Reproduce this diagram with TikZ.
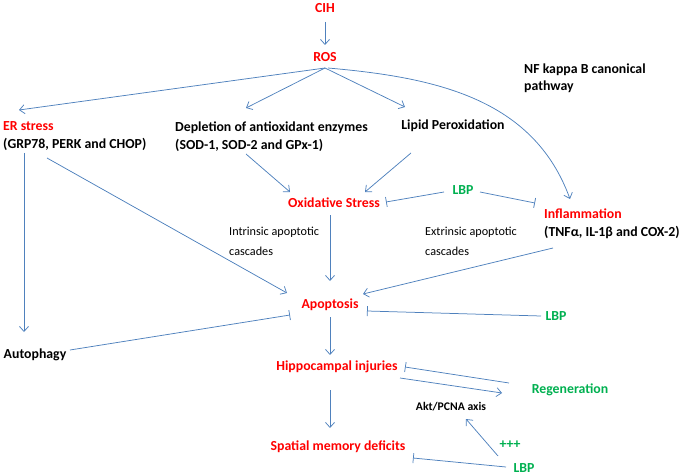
\documentclass[tikz,border=0pt]{standalone}
\usepackage{fontspec}
\setmainfont{Carlito}
\usetikzlibrary{arrows.meta,calc}

\definecolor{lineblue}{RGB}{79,129,189}
\definecolor{txtred}{RGB}{255,0,0}
\definecolor{txtgreen}{RGB}{0,176,80}

\begin{document}
\begin{tikzpicture}[x=1pt,y=-1pt,
	every node/.style={font=\bfseries\fontsize{13.8}{18}\selectfont,inner sep=2pt,align=left},
	rtxt/.style={text=txtred},
	gtxt/.style={text=txtgreen},
	small/.style={font=\mdseries\fontsize{12.2}{20}\selectfont},
	act/.style={draw=lineblue,line width=0.75pt,-{Straight Barb[length=5pt,width=9pt]}},
	inh/.style={draw=lineblue,line width=0.75pt,-{Bar[width=10pt]}}]

\useasboundingbox (0,0) rectangle (683,476);

%top part
\node[rtxt] (CIH) at (325,8) {CIH};
\node[rtxt] (ROS) at (325,57) {ROS};
\node[anchor=north west] (ER) at (1,119) {\textcolor{txtred}{ER stress}\\(GRP78, PERK and CHOP)};
\node[anchor=north west] (DEP) at (173,120) {Depletion of antioxidant enzymes\\(SOD-1, SOD-2 and GPx-1)};
\node (LP) at (453,126) {Lipid Peroxidation};
\node[anchor=north west,font=\bfseries\fontsize{13.8}{17}\selectfont] (NF) at (522,62) {NF kappa B canonical\\pathway};

%middle part
\node[rtxt] (OS) at (334,203) {Oxidative Stress};
\node[gtxt] (LBP1) at (463,190) {LBP};
\node[anchor=north west] (INF) at (542,207) {\textcolor{txtred}{Inflammation}\\(TNFα, IL-1β and COX-2)};
\node[small,anchor=north west] (INT) at (227,225) {Intrinsic apoptotic\\cascades};
\node[small,anchor=north west] (EXT) at (423,225) {Extrinsic apoptotic\\cascades};
\node[rtxt] (APO) at (330,305) {Apoptosis};
\node[gtxt] (LBP2) at (556,316) {LBP};
\node (AUT) at (35,355) {Autophagy};

%bottom part
\node[rtxt] (HI) at (337,367) {Hippocampal injuries};
\node[gtxt] (REG) at (570,390) {Regeneration};
\node[font=\bfseries\fontsize{11.7}{13}\selectfont] (AKT) at (451,407) {Akt/PCNA axis};
\node[gtxt] (PLUS) at (510,445) {+++};
\node[rtxt] (SMD) at (338,447) {Spatial memory deficits};
\node[gtxt] (LBP3) at (524,468) {LBP};

\draw[act] ($(CIH)+(0,14)$) -- ($(ROS)+(0,-12)$);
\draw[act] ($(ROS)+(0,11)$) -- ($(ER.north west)+(18,-9)$);
\draw[act] ($(ROS)+(0,11)$) -- ($(DEP.north west)+(73,-12)$);
\draw[act] ($(ROS)+(0,11)$) -- ($(LP)+(-48,-19)$);
\draw[act] ($(ROS)+(3,11)$) to[out=-5,in=110] ($(INF.north west)+(28,-8)$);

\draw[act] ($(DEP.north west)+(73,34)$) -- ($(OS)+(-44,-11)$);
\draw[act] ($(LP)+(-42,27)$) -- ($(OS)+(31,-11)$);
\draw[inh] ($(LBP1)+(-19,2)$) -- ($(OS)+(52,-1)$);
\draw[inh] ($(LBP1)+(17,2)$) -- ($(INF.north west)+(-7,-4)$);

\draw[act] ($(ER.north west)+(46,39)$) -- ($(APO)+(-43,-12)$);
\draw[act] ($(ER.north west)+(23,34)$) -- ($(AUT)+(-11,-23)$);
\draw[act] ($(OS)+(-4,12)$) -- ($(APO)+(0,-24)$);
\draw[act] ($(INF.north west)+(11,41)$) -- ($(APO)+(33,-11)$);
\draw[inh] ($(LBP2)+(-15,0)$) -- ($(APO)+(37,6)$);
\draw[inh] ($(AUT)+(35,-5)$) -- ($(APO)+(-40,10)$);

\draw[act] ($(APO)+(0,12)$) -- ($(HI)+(-7,-12)$);
\draw[act] ($(HI)+(63,11)$) -- ($(REG)+(-68,3)$);
\draw[inh] ($(REG)+(-61,-7)$) -- ($(HI)+(68,0)$);
\draw[act] ($(HI)+(-7,23)$) -- ($(SMD)+(-8,-19)$);
\draw[act] ($(LBP3)+(-26,-12)$) -- ($(AKT)+(15,12)$);
\draw[inh] ($(LBP3)+(-18,-1)$) -- ($(SMD)+(75,11)$);

\end{tikzpicture}
\end{document}
